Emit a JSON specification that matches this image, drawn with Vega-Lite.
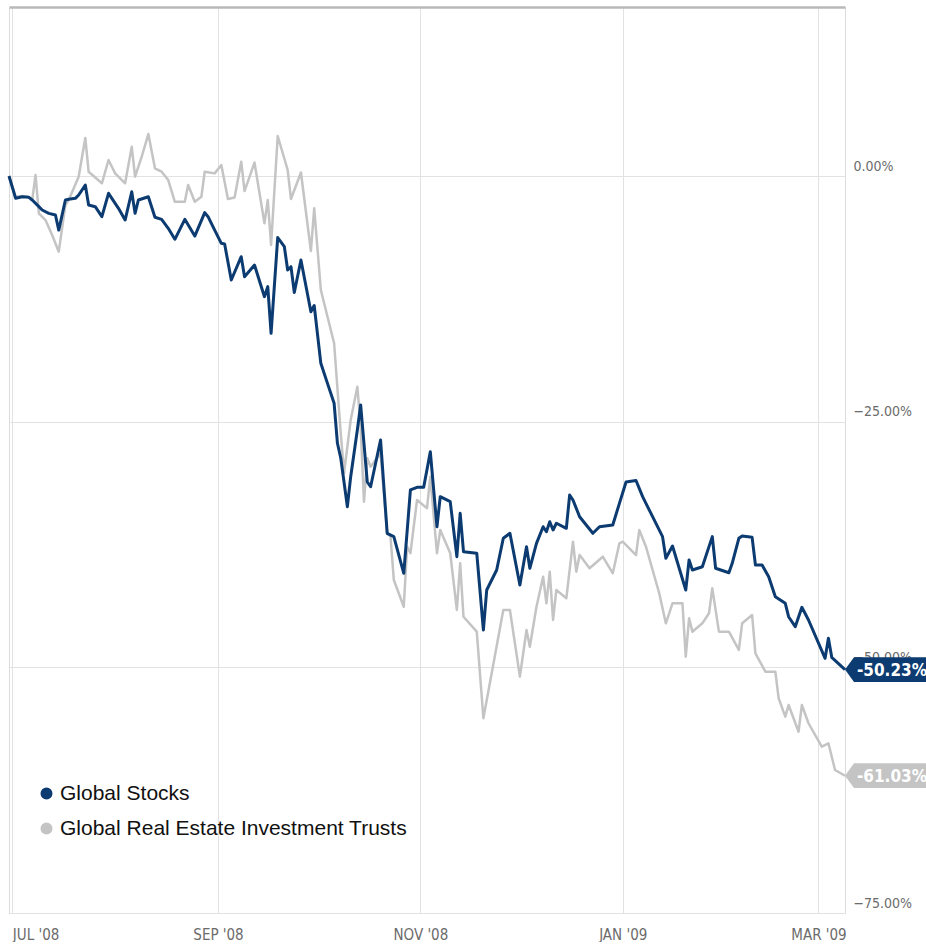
{
  "$schema": "https://vega.github.io/schema/vega-lite/v6.json",
  "width": 836,
  "height": 906,
  "padding": {"left": 7, "top": 7, "right": 0, "bottom": 0},
  "background": "white",
  "config": {
    "view": {"stroke": "#dcdcdc", "strokeWidth": 1},
    "axis": {"labelFont": "Liberation Sans Narrow, DejaVu Sans Condensed, Roboto, sans-serif"}
  },
  "datasets": {
    "prices": [
      {"date": "2008-06-30", "series": "Global Stocks", "value": 0},
      {"date": "2008-07-02", "series": "Global Stocks", "value": -2.27},
      {"date": "2008-07-04", "series": "Global Stocks", "value": -2.11},
      {"date": "2008-07-06", "series": "Global Stocks", "value": -2.17},
      {"date": "2008-07-07", "series": "Global Stocks", "value": -2.44},
      {"date": "2008-07-09", "series": "Global Stocks", "value": -3.12},
      {"date": "2008-07-10", "series": "Global Stocks", "value": -3.46},
      {"date": "2008-07-12", "series": "Global Stocks", "value": -3.80},
      {"date": "2008-07-14", "series": "Global Stocks", "value": -3.97},
      {"date": "2008-07-15", "series": "Global Stocks", "value": -5.50},
      {"date": "2008-07-17", "series": "Global Stocks", "value": -2.44},
      {"date": "2008-07-18", "series": "Global Stocks", "value": -2.37},
      {"date": "2008-07-20", "series": "Global Stocks", "value": -2.27},
      {"date": "2008-07-21", "series": "Global Stocks", "value": -1.93},
      {"date": "2008-07-23", "series": "Global Stocks", "value": -0.92},
      {"date": "2008-07-24", "series": "Global Stocks", "value": -2.95},
      {"date": "2008-07-26", "series": "Global Stocks", "value": -3.12},
      {"date": "2008-07-28", "series": "Global Stocks", "value": -4.14},
      {"date": "2008-07-30", "series": "Global Stocks", "value": -1.76},
      {"date": "2008-08-02", "series": "Global Stocks", "value": -3.29},
      {"date": "2008-08-04", "series": "Global Stocks", "value": -4.48},
      {"date": "2008-08-06", "series": "Global Stocks", "value": -1.60},
      {"date": "2008-08-07", "series": "Global Stocks", "value": -3.80},
      {"date": "2008-08-08", "series": "Global Stocks", "value": -2.44},
      {"date": "2008-08-11", "series": "Global Stocks", "value": -2.11},
      {"date": "2008-08-13", "series": "Global Stocks", "value": -4.20},
      {"date": "2008-08-15", "series": "Global Stocks", "value": -4.41},
      {"date": "2008-08-17", "series": "Global Stocks", "value": -5.32},
      {"date": "2008-08-19", "series": "Global Stocks", "value": -6.44},
      {"date": "2008-08-22", "series": "Global Stocks", "value": -4.41},
      {"date": "2008-08-25", "series": "Global Stocks", "value": -6.11},
      {"date": "2008-08-28", "series": "Global Stocks", "value": -3.73},
      {"date": "2008-08-29", "series": "Global Stocks", "value": -4.14},
      {"date": "2008-08-31", "series": "Global Stocks", "value": -5.50},
      {"date": "2008-09-02", "series": "Global Stocks", "value": -6.85},
      {"date": "2008-09-03", "series": "Global Stocks", "value": -6.92},
      {"date": "2008-09-05", "series": "Global Stocks", "value": -10.58},
      {"date": "2008-09-08", "series": "Global Stocks", "value": -8.21},
      {"date": "2008-09-09", "series": "Global Stocks", "value": -10.25},
      {"date": "2008-09-12", "series": "Global Stocks", "value": -9.06},
      {"date": "2008-09-15", "series": "Global Stocks", "value": -12.28},
      {"date": "2008-09-16", "series": "Global Stocks", "value": -11.26},
      {"date": "2008-09-17", "series": "Global Stocks", "value": -16.01},
      {"date": "2008-09-19", "series": "Global Stocks", "value": -6.26},
      {"date": "2008-09-21", "series": "Global Stocks", "value": -7.19},
      {"date": "2008-09-22", "series": "Global Stocks", "value": -9.57},
      {"date": "2008-09-23", "series": "Global Stocks", "value": -9.23},
      {"date": "2008-09-24", "series": "Global Stocks", "value": -11.86},
      {"date": "2008-09-26", "series": "Global Stocks", "value": -8.55},
      {"date": "2008-09-29", "series": "Global Stocks", "value": -13.81},
      {"date": "2008-09-30", "series": "Global Stocks", "value": -13.18},
      {"date": "2008-10-02", "series": "Global Stocks", "value": -19.06},
      {"date": "2008-10-04", "series": "Global Stocks", "value": -21.10},
      {"date": "2008-10-06", "series": "Global Stocks", "value": -23.13},
      {"date": "2008-10-07", "series": "Global Stocks", "value": -27.20},
      {"date": "2008-10-08", "series": "Global Stocks", "value": -28.70},
      {"date": "2008-10-10", "series": "Global Stocks", "value": -33.65},
      {"date": "2008-10-11", "series": "Global Stocks", "value": -30.60},
      {"date": "2008-10-13", "series": "Global Stocks", "value": -25.85},
      {"date": "2008-10-14", "series": "Global Stocks", "value": -23.30},
      {"date": "2008-10-16", "series": "Global Stocks", "value": -31.14},
      {"date": "2008-10-17", "series": "Global Stocks", "value": -31.62},
      {"date": "2008-10-20", "series": "Global Stocks", "value": -26.86},
      {"date": "2008-10-22", "series": "Global Stocks", "value": -36.36},
      {"date": "2008-10-24", "series": "Global Stocks", "value": -36.70},
      {"date": "2008-10-27", "series": "Global Stocks", "value": -40.43},
      {"date": "2008-10-29", "series": "Global Stocks", "value": -31.95},
      {"date": "2008-10-31", "series": "Global Stocks", "value": -31.68},
      {"date": "2008-11-02", "series": "Global Stocks", "value": -31.68},
      {"date": "2008-11-04", "series": "Global Stocks", "value": -28.06},
      {"date": "2008-11-06", "series": "Global Stocks", "value": -35.69},
      {"date": "2008-11-07", "series": "Global Stocks", "value": -32.63},
      {"date": "2008-11-10", "series": "Global Stocks", "value": -33.14},
      {"date": "2008-11-12", "series": "Global Stocks", "value": -38.74},
      {"date": "2008-11-13", "series": "Global Stocks", "value": -34.32},
      {"date": "2008-11-14", "series": "Global Stocks", "value": -38.23},
      {"date": "2008-11-18", "series": "Global Stocks", "value": -38.39},
      {"date": "2008-11-20", "series": "Global Stocks", "value": -46.20},
      {"date": "2008-11-21", "series": "Global Stocks", "value": -42.13},
      {"date": "2008-11-24", "series": "Global Stocks", "value": -40.09},
      {"date": "2008-11-26", "series": "Global Stocks", "value": -36.87},
      {"date": "2008-11-28", "series": "Global Stocks", "value": -36.36},
      {"date": "2008-12-01", "series": "Global Stocks", "value": -41.62},
      {"date": "2008-12-03", "series": "Global Stocks", "value": -37.72},
      {"date": "2008-12-04", "series": "Global Stocks", "value": -39.92},
      {"date": "2008-12-06", "series": "Global Stocks", "value": -37.38},
      {"date": "2008-12-08", "series": "Global Stocks", "value": -35.69},
      {"date": "2008-12-09", "series": "Global Stocks", "value": -36.20},
      {"date": "2008-12-10", "series": "Global Stocks", "value": -35.18},
      {"date": "2008-12-11", "series": "Global Stocks", "value": -36.02},
      {"date": "2008-12-12", "series": "Global Stocks", "value": -35.34},
      {"date": "2008-12-15", "series": "Global Stocks", "value": -35.85},
      {"date": "2008-12-16", "series": "Global Stocks", "value": -32.46},
      {"date": "2008-12-17", "series": "Global Stocks", "value": -32.97},
      {"date": "2008-12-19", "series": "Global Stocks", "value": -34.67},
      {"date": "2008-12-23", "series": "Global Stocks", "value": -36.36},
      {"date": "2008-12-25", "series": "Global Stocks", "value": -35.69},
      {"date": "2008-12-29", "series": "Global Stocks", "value": -35.51},
      {"date": "2008-12-31", "series": "Global Stocks", "value": -33.31},
      {"date": "2009-01-02", "series": "Global Stocks", "value": -31.14},
      {"date": "2009-01-05", "series": "Global Stocks", "value": -30.99},
      {"date": "2009-01-07", "series": "Global Stocks", "value": -32.63},
      {"date": "2009-01-08", "series": "Global Stocks", "value": -33.31},
      {"date": "2009-01-10", "series": "Global Stocks", "value": -34.67},
      {"date": "2009-01-13", "series": "Global Stocks", "value": -36.70},
      {"date": "2009-01-14", "series": "Global Stocks", "value": -38.90},
      {"date": "2009-01-16", "series": "Global Stocks", "value": -37.65},
      {"date": "2009-01-20", "series": "Global Stocks", "value": -42.13},
      {"date": "2009-01-21", "series": "Global Stocks", "value": -39.08},
      {"date": "2009-01-22", "series": "Global Stocks", "value": -40.09},
      {"date": "2009-01-25", "series": "Global Stocks", "value": -39.76},
      {"date": "2009-01-28", "series": "Global Stocks", "value": -36.70},
      {"date": "2009-01-29", "series": "Global Stocks", "value": -39.92},
      {"date": "2009-02-02", "series": "Global Stocks", "value": -40.37},
      {"date": "2009-02-03", "series": "Global Stocks", "value": -39.41},
      {"date": "2009-02-05", "series": "Global Stocks", "value": -36.87},
      {"date": "2009-02-06", "series": "Global Stocks", "value": -36.63},
      {"date": "2009-02-09", "series": "Global Stocks", "value": -36.77},
      {"date": "2009-02-10", "series": "Global Stocks", "value": -39.58},
      {"date": "2009-02-12", "series": "Global Stocks", "value": -39.58},
      {"date": "2009-02-14", "series": "Global Stocks", "value": -40.78},
      {"date": "2009-02-16", "series": "Global Stocks", "value": -42.81},
      {"date": "2009-02-19", "series": "Global Stocks", "value": -43.48},
      {"date": "2009-02-20", "series": "Global Stocks", "value": -44.85},
      {"date": "2009-02-22", "series": "Global Stocks", "value": -45.86},
      {"date": "2009-02-24", "series": "Global Stocks", "value": -43.89},
      {"date": "2009-02-26", "series": "Global Stocks", "value": -45.18},
      {"date": "2009-03-03", "series": "Global Stocks", "value": -49.08},
      {"date": "2009-03-04", "series": "Global Stocks", "value": -47.04},
      {"date": "2009-03-05", "series": "Global Stocks", "value": -48.98},
      {"date": "2009-03-09", "series": "Global Stocks", "value": -50.23},
      {"date": "2008-06-30", "series": "Global Real Estate Investment Trusts", "value": 0},
      {"date": "2008-07-02", "series": "Global Real Estate Investment Trusts", "value": -2.11},
      {"date": "2008-07-04", "series": "Global Real Estate Investment Trusts", "value": -2.04},
      {"date": "2008-07-06", "series": "Global Real Estate Investment Trusts", "value": -2.17},
      {"date": "2008-07-07", "series": "Global Real Estate Investment Trusts", "value": -2.44},
      {"date": "2008-07-08", "series": "Global Real Estate Investment Trusts", "value": 0.10},
      {"date": "2008-07-09", "series": "Global Real Estate Investment Trusts", "value": -3.80},
      {"date": "2008-07-11", "series": "Global Real Estate Investment Trusts", "value": -4.48},
      {"date": "2008-07-13", "series": "Global Real Estate Investment Trusts", "value": -6.00},
      {"date": "2008-07-15", "series": "Global Real Estate Investment Trusts", "value": -7.70},
      {"date": "2008-07-17", "series": "Global Real Estate Investment Trusts", "value": -2.95},
      {"date": "2008-07-18", "series": "Global Real Estate Investment Trusts", "value": -2.44},
      {"date": "2008-07-21", "series": "Global Real Estate Investment Trusts", "value": -0.07},
      {"date": "2008-07-23", "series": "Global Real Estate Investment Trusts", "value": 3.87},
      {"date": "2008-07-24", "series": "Global Real Estate Investment Trusts", "value": 0.44},
      {"date": "2008-07-28", "series": "Global Real Estate Investment Trusts", "value": -0.74},
      {"date": "2008-07-30", "series": "Global Real Estate Investment Trusts", "value": 1.63},
      {"date": "2008-08-01", "series": "Global Real Estate Investment Trusts", "value": 0.27},
      {"date": "2008-08-04", "series": "Global Real Estate Investment Trusts", "value": -0.74},
      {"date": "2008-08-06", "series": "Global Real Estate Investment Trusts", "value": 2.98},
      {"date": "2008-08-07", "series": "Global Real Estate Investment Trusts", "value": -0.07},
      {"date": "2008-08-09", "series": "Global Real Estate Investment Trusts", "value": 1.96},
      {"date": "2008-08-11", "series": "Global Real Estate Investment Trusts", "value": 4.27},
      {"date": "2008-08-13", "series": "Global Real Estate Investment Trusts", "value": 0.78},
      {"date": "2008-08-15", "series": "Global Real Estate Investment Trusts", "value": 0.44},
      {"date": "2008-08-17", "series": "Global Real Estate Investment Trusts", "value": -0.41},
      {"date": "2008-08-19", "series": "Global Real Estate Investment Trusts", "value": -2.62},
      {"date": "2008-08-22", "series": "Global Real Estate Investment Trusts", "value": -2.62},
      {"date": "2008-08-23", "series": "Global Real Estate Investment Trusts", "value": -0.92},
      {"date": "2008-08-25", "series": "Global Real Estate Investment Trusts", "value": -2.62},
      {"date": "2008-08-27", "series": "Global Real Estate Investment Trusts", "value": -2.11},
      {"date": "2008-08-28", "series": "Global Real Estate Investment Trusts", "value": 0.44},
      {"date": "2008-08-31", "series": "Global Real Estate Investment Trusts", "value": 0.27},
      {"date": "2008-09-02", "series": "Global Real Estate Investment Trusts", "value": 1.12},
      {"date": "2008-09-04", "series": "Global Real Estate Investment Trusts", "value": -2.34},
      {"date": "2008-09-06", "series": "Global Real Estate Investment Trusts", "value": -2.19},
      {"date": "2008-09-08", "series": "Global Real Estate Investment Trusts", "value": 1.46},
      {"date": "2008-09-09", "series": "Global Real Estate Investment Trusts", "value": -1.53},
      {"date": "2008-09-12", "series": "Global Real Estate Investment Trusts", "value": 1.37},
      {"date": "2008-09-15", "series": "Global Real Estate Investment Trusts", "value": -4.81},
      {"date": "2008-09-16", "series": "Global Real Estate Investment Trusts", "value": -2.44},
      {"date": "2008-09-17", "series": "Global Real Estate Investment Trusts", "value": -7.02},
      {"date": "2008-09-19", "series": "Global Real Estate Investment Trusts", "value": 4.07},
      {"date": "2008-09-22", "series": "Global Real Estate Investment Trusts", "value": 0.61},
      {"date": "2008-09-23", "series": "Global Real Estate Investment Trusts", "value": -2.34},
      {"date": "2008-09-26", "series": "Global Real Estate Investment Trusts", "value": 0.36},
      {"date": "2008-09-29", "series": "Global Real Estate Investment Trusts", "value": -7.63},
      {"date": "2008-09-30", "series": "Global Real Estate Investment Trusts", "value": -3.29},
      {"date": "2008-10-02", "series": "Global Real Estate Investment Trusts", "value": -11.60},
      {"date": "2008-10-06", "series": "Global Real Estate Investment Trusts", "value": -17.02},
      {"date": "2008-10-08", "series": "Global Real Estate Investment Trusts", "value": -26.18},
      {"date": "2008-10-09", "series": "Global Real Estate Investment Trusts", "value": -30.22},
      {"date": "2008-10-11", "series": "Global Real Estate Investment Trusts", "value": -24.83},
      {"date": "2008-10-13", "series": "Global Real Estate Investment Trusts", "value": -21.44},
      {"date": "2008-10-14", "series": "Global Real Estate Investment Trusts", "value": -25.51},
      {"date": "2008-10-15", "series": "Global Real Estate Investment Trusts", "value": -33.14},
      {"date": "2008-10-16", "series": "Global Real Estate Investment Trusts", "value": -28.73},
      {"date": "2008-10-17", "series": "Global Real Estate Investment Trusts", "value": -29.58},
      {"date": "2008-10-20", "series": "Global Real Estate Investment Trusts", "value": -28.22},
      {"date": "2008-10-22", "series": "Global Real Estate Investment Trusts", "value": -36.36},
      {"date": "2008-10-23", "series": "Global Real Estate Investment Trusts", "value": -36.70},
      {"date": "2008-10-24", "series": "Global Real Estate Investment Trusts", "value": -41.11},
      {"date": "2008-10-27", "series": "Global Real Estate Investment Trusts", "value": -43.83},
      {"date": "2008-10-28", "series": "Global Real Estate Investment Trusts", "value": -37.72},
      {"date": "2008-10-29", "series": "Global Real Estate Investment Trusts", "value": -38.39},
      {"date": "2008-10-31", "series": "Global Real Estate Investment Trusts", "value": -32.97},
      {"date": "2008-11-03", "series": "Global Real Estate Investment Trusts", "value": -33.81},
      {"date": "2008-11-04", "series": "Global Real Estate Investment Trusts", "value": -30.60},
      {"date": "2008-11-06", "series": "Global Real Estate Investment Trusts", "value": -38.39},
      {"date": "2008-11-07", "series": "Global Real Estate Investment Trusts", "value": -36.02},
      {"date": "2008-11-10", "series": "Global Real Estate Investment Trusts", "value": -38.39},
      {"date": "2008-11-12", "series": "Global Real Estate Investment Trusts", "value": -44.16},
      {"date": "2008-11-13", "series": "Global Real Estate Investment Trusts", "value": -39.41},
      {"date": "2008-11-14", "series": "Global Real Estate Investment Trusts", "value": -44.85},
      {"date": "2008-11-18", "series": "Global Real Estate Investment Trusts", "value": -46.37},
      {"date": "2008-11-20", "series": "Global Real Estate Investment Trusts", "value": -55.18},
      {"date": "2008-11-26", "series": "Global Real Estate Investment Trusts", "value": -44.16},
      {"date": "2008-11-28", "series": "Global Real Estate Investment Trusts", "value": -44.16},
      {"date": "2008-12-01", "series": "Global Real Estate Investment Trusts", "value": -50.95},
      {"date": "2008-12-03", "series": "Global Real Estate Investment Trusts", "value": -46.20},
      {"date": "2008-12-04", "series": "Global Real Estate Investment Trusts", "value": -47.90},
      {"date": "2008-12-06", "series": "Global Real Estate Investment Trusts", "value": -43.83},
      {"date": "2008-12-08", "series": "Global Real Estate Investment Trusts", "value": -40.78},
      {"date": "2008-12-09", "series": "Global Real Estate Investment Trusts", "value": -43.48},
      {"date": "2008-12-10", "series": "Global Real Estate Investment Trusts", "value": -40.27},
      {"date": "2008-12-11", "series": "Global Real Estate Investment Trusts", "value": -45.18},
      {"date": "2008-12-12", "series": "Global Real Estate Investment Trusts", "value": -42.13},
      {"date": "2008-12-15", "series": "Global Real Estate Investment Trusts", "value": -42.97},
      {"date": "2008-12-17", "series": "Global Real Estate Investment Trusts", "value": -37.21},
      {"date": "2008-12-18", "series": "Global Real Estate Investment Trusts", "value": -40.27},
      {"date": "2008-12-19", "series": "Global Real Estate Investment Trusts", "value": -38.57},
      {"date": "2008-12-22", "series": "Global Real Estate Investment Trusts", "value": -39.92},
      {"date": "2008-12-26", "series": "Global Real Estate Investment Trusts", "value": -38.74},
      {"date": "2008-12-29", "series": "Global Real Estate Investment Trusts", "value": -40.43},
      {"date": "2008-12-31", "series": "Global Real Estate Investment Trusts", "value": -37.38},
      {"date": "2009-01-01", "series": "Global Real Estate Investment Trusts", "value": -37.21},
      {"date": "2009-01-05", "series": "Global Real Estate Investment Trusts", "value": -38.57},
      {"date": "2009-01-06", "series": "Global Real Estate Investment Trusts", "value": -36.02},
      {"date": "2009-01-08", "series": "Global Real Estate Investment Trusts", "value": -37.72},
      {"date": "2009-01-12", "series": "Global Real Estate Investment Trusts", "value": -42.46},
      {"date": "2009-01-14", "series": "Global Real Estate Investment Trusts", "value": -45.52},
      {"date": "2009-01-16", "series": "Global Real Estate Investment Trusts", "value": -43.48},
      {"date": "2009-01-19", "series": "Global Real Estate Investment Trusts", "value": -43.48},
      {"date": "2009-01-20", "series": "Global Real Estate Investment Trusts", "value": -48.92},
      {"date": "2009-01-21", "series": "Global Real Estate Investment Trusts", "value": -45.01},
      {"date": "2009-01-22", "series": "Global Real Estate Investment Trusts", "value": -46.37},
      {"date": "2009-01-25", "series": "Global Real Estate Investment Trusts", "value": -45.52},
      {"date": "2009-01-27", "series": "Global Real Estate Investment Trusts", "value": -44.50},
      {"date": "2009-01-28", "series": "Global Real Estate Investment Trusts", "value": -41.96},
      {"date": "2009-01-30", "series": "Global Real Estate Investment Trusts", "value": -46.37},
      {"date": "2009-02-02", "series": "Global Real Estate Investment Trusts", "value": -46.37},
      {"date": "2009-02-05", "series": "Global Real Estate Investment Trusts", "value": -48.23},
      {"date": "2009-02-06", "series": "Global Real Estate Investment Trusts", "value": -45.52},
      {"date": "2009-02-09", "series": "Global Real Estate Investment Trusts", "value": -44.67},
      {"date": "2009-02-10", "series": "Global Real Estate Investment Trusts", "value": -48.57},
      {"date": "2009-02-13", "series": "Global Real Estate Investment Trusts", "value": -50.44},
      {"date": "2009-02-16", "series": "Global Real Estate Investment Trusts", "value": -50.44},
      {"date": "2009-02-17", "series": "Global Real Estate Investment Trusts", "value": -53.15},
      {"date": "2009-02-19", "series": "Global Real Estate Investment Trusts", "value": -55.02},
      {"date": "2009-02-20", "series": "Global Real Estate Investment Trusts", "value": -53.83},
      {"date": "2009-02-23", "series": "Global Real Estate Investment Trusts", "value": -56.55},
      {"date": "2009-02-24", "series": "Global Real Estate Investment Trusts", "value": -53.83},
      {"date": "2009-02-26", "series": "Global Real Estate Investment Trusts", "value": -55.69},
      {"date": "2009-03-02", "series": "Global Real Estate Investment Trusts", "value": -58.07},
      {"date": "2009-03-04", "series": "Global Real Estate Investment Trusts", "value": -57.73},
      {"date": "2009-03-06", "series": "Global Real Estate Investment Trusts", "value": -60.45},
      {"date": "2009-03-09", "series": "Global Real Estate Investment Trusts", "value": -61.03}
    ],
    "tags": [
      {"date": "2009-03-09", "series": "Global Stocks", "value": -50.23, "label": "-50.23%"},
      {"date": "2009-03-09", "series": "Global Real Estate Investment Trusts", "value": -61.03, "label": "-61.03%"}
    ]
  },
  "data": {"name": "prices"},
  "encoding": {
    "x": {
      "field": "date",
      "type": "temporal",
      "title": null,
      "scale": {
        "type": "utc",
        "domain": [
          {"year": 2008, "month": 6, "date": 30, "utc": true},
          {"year": 2009, "month": 3, "date": 9, "utc": true}
        ]
      },
      "axis": {
        "orient": "bottom",
        "values": [
          {"year": 2008, "month": 7, "date": 1, "utc": true},
          {"year": 2008, "month": 9, "date": 1, "utc": true},
          {"year": 2008, "month": 11, "date": 1, "utc": true},
          {"year": 2009, "month": 1, "date": 1, "utc": true},
          {"year": 2009, "month": 3, "date": 1, "utc": true}
        ],
        "labelExpr": "upper(utcFormat(datum.value, '%b')) + \" '\" + utcFormat(datum.value, '%y')",
        "labelFlush": 5,
        "ticks": false,
        "tickSize": 0,
        "domain": false,
        "grid": true,
        "gridColor": "#e2e2e2",
        "gridWidth": 1,
        "labelPadding": 14,
        "labelBaseline": "top",
        "labelColor": "#6b6b6b",
        "labelFontSize": 15
      }
    },
    "y": {
      "field": "value",
      "type": "quantitative",
      "title": null,
      "scale": {"domain": [-75, 17.2], "nice": false, "zero": false},
      "axis": {
        "orient": "right",
        "values": [-75, -50, -25, 0, 17.2],
        "labelExpr": "datum.value > 10 ? '' : format(datum.value, '.2f') + '%'",
        "labelAlign": "left",
        "labelBaseline": "middle",
        "labelOffset": -10,
        "labelPadding": 8,
        "ticks": false,
        "tickSize": 0,
        "domain": false,
        "grid": true,
        "gridColor": {"condition": {"test": "datum.value > 10", "value": "#b8b8b8"}, "value": "#e2e2e2"},
        "gridWidth": {"condition": {"test": "datum.value > 10", "value": 2.5}, "value": 1},
        "labelColor": "#6b6b6b",
        "labelFontSize": 14
      }
    }
  },
  "layer": [
    {
      "transform": [{"filter": "datum.series == 'Global Real Estate Investment Trusts'"}],
      "mark": {"type": "line", "strokeWidth": 2.5, "strokeJoin": "round"},
      "encoding": {
        "color": {
          "field": "series",
          "type": "nominal",
          "scale": {
            "domain": ["Global Stocks", "Global Real Estate Investment Trusts"],
            "range": ["#0c3b71", "#c4c4c4"]
          },
          "legend": {
            "orient": "none",
            "legendX": 27,
            "legendY": 776,
            "title": null,
            "symbolType": "circle",
            "symbolSize": 36,
            "symbolStrokeWidth": 6,
            "labelFont": "Liberation Sans, Arial, sans-serif",
            "labelFontSize": 21,
            "labelColor": "#111111",
            "labelOffset": 3,
            "rowPadding": 4,
            "padding": 0,
            "labelLimit": 600
          }
        }
      }
    },
    {
      "transform": [{"filter": "datum.series == 'Global Stocks'"}],
      "mark": {"type": "line", "strokeWidth": 3, "strokeJoin": "round"},
      "encoding": {
        "color": {
          "field": "series",
          "type": "nominal",
          "scale": {
            "domain": ["Global Stocks", "Global Real Estate Investment Trusts"],
            "range": ["#0c3b71", "#c4c4c4"]
          }
        }
      }
    },
    {
      "data": {"name": "tags"},
      "mark": {
        "type": "point",
        "shape": "M0,0L0.225,-0.31L2.1,-0.31L2.1,0.31L0.225,0.31Z",
        "size": 6400,
        "filled": true,
        "opacity": 1,
        "strokeWidth": 0
      },
      "encoding": {
        "fill": {
          "field": "series",
          "type": "nominal",
          "scale": {
            "domain": ["Global Stocks", "Global Real Estate Investment Trusts"],
            "range": ["#0c3b71", "#c4c4c4"]
          },
          "legend": null
        }
      }
    },
    {
      "data": {"name": "tags"},
      "mark": {
        "type": "text",
        "dx": 47,
        "dy": 1,
        "align": "center",
        "baseline": "middle",
        "color": "#ffffff",
        "fontWeight": "bold",
        "fontSize": 17,
        "font": "Liberation Sans Narrow, DejaVu Sans Condensed, Roboto, sans-serif"
      },
      "encoding": {"text": {"field": "label"}}
    }
  ]
}
